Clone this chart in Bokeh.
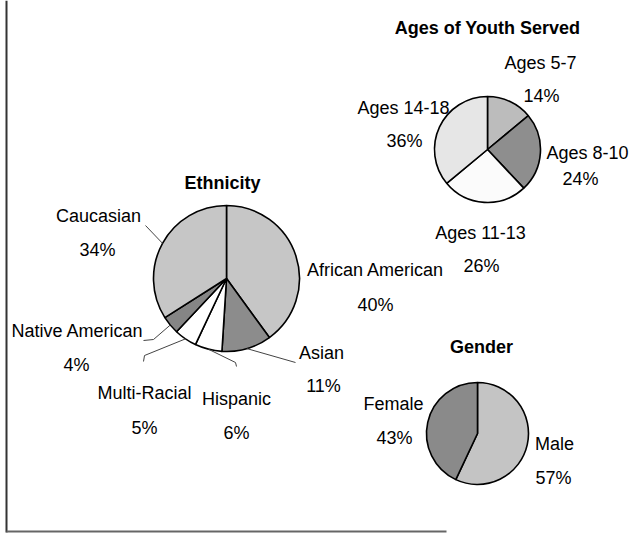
import math
from bokeh.plotting import figure
from bokeh.models import Range1d
from bokeh.core.properties import value
from bokeh.embed import file_html
from bokeh.resources import INLINE

# ---------------- data ----------------
eth_labels = ["African American", "Asian", "Hispanic", "Multi-Racial", "Native American", "Caucasian"]
eth_values = [40, 11, 6, 5, 4, 34]

age_labels = ["Ages 5-7", "Ages 8-10", "Ages 11-13", "Ages 14-18"]
age_values = [14, 24, 26, 36]

gender_labels = ["Male", "Female"]
gender_values = [57, 43]

# ---------------- layout (pixel coords, y down) ----------------
W, H = 639, 534
FONT = value("Liberation Sans")


def Y(py):
    return H - py


charts = [
    dict(title="Ethnicity", labels=eth_labels, values=eth_values,
         center=(226, 278), r=73, title_pos=(222, 182),
         colors=["#c6c6c6", "#8c8c8c", "#ffffff", "#ffffff", "#858585", "#c6c6c6"],
         name_pos=[(375, 269), (321, 352), (236, 398), (144, 392), (77, 330), (98, 215)],
         pct_pos=[(375, 304), (323, 385), (236, 432), (144, 427), (76, 364), (97, 249)],
         leaders={1: [(295, 362)], 2: [(235, 362), (236, 366)], 3: [(144, 355), (143, 361)],
                  4: [(153, 339), (143, 340)], 5: [(145, 225)]}),
    dict(title="Ages of Youth Served", labels=age_labels, values=age_values,
         center=(487, 149), r=53, title_pos=(487, 27),
         colors=["#bcbcbc", "#8e8e8e", "#fbfbfb", "#e6e6e6"],
         name_pos=[(540, 62), (587, 152), (480, 232), (403, 107)],
         pct_pos=[(541, 95), (580, 178), (481, 265), (404, 140)],
         leaders={}),
    dict(title="Gender", labels=gender_labels, values=gender_values,
         center=(477, 433), r=51, title_pos=(481, 346),
         colors=["#c4c4c4", "#8a8a8a"],
         name_pos=[(554, 443), (393, 403)],
         pct_pos=[(553, 477), (394, 437)],
         leaders={}),
]

p = figure(width=W, height=H, output_backend="svg", toolbar_location=None,
           x_range=Range1d(0, W), y_range=Range1d(0, H), min_border=0)
p.axis.visible = False
p.grid.visible = False
p.outline_line_color = None
p.background_fill_color = "white"
p.border_fill_color = "white"

# frame lines
p.segment(x0=[6], y0=[Y(0)], x1=[6], y1=[Y(532)], line_color="#333333", line_width=2)
p.segment(x0=[6], y0=[Y(531)], x1=[446], y1=[Y(531)], line_color="#666666", line_width=2)

for c in charts:
    vals = c["values"]
    total = float(sum(vals))
    cx, cy = c["center"]
    r = c["r"]
    starts, ends, mids = [], [], []
    cum = 0.0
    for v in vals:
        a0 = math.pi / 2 - 2 * math.pi * cum / total
        cum += v
        a1 = math.pi / 2 - 2 * math.pi * cum / total
        starts.append(a0)
        ends.append(a1)
        mids.append((a0 + a1) / 2)
    p.wedge(x=[cx] * len(vals), y=[Y(cy)] * len(vals), radius=r,
            start_angle=starts, end_angle=ends, direction="clock",
            fill_color=c["colors"], line_color="black", line_width=1.6)

    # leader lines: from slice edge (mid angle) to label
    for i, pts in c["leaders"].items():
        ex = cx + r * math.cos(mids[i])
        ey = Y(cy) + r * math.sin(mids[i])
        xs = [ex] + [pt[0] for pt in pts]
        ys = [ey] + [Y(pt[1]) for pt in pts]
        p.line(xs, ys, line_color="#444444", line_width=1)

    # title
    tx, ty = c["title_pos"]
    p.text(x=[tx], y=[Y(ty)], text=[c["title"]], text_font=FONT, text_font_style="bold",
           text_font_size="18px", text_align="center", text_baseline="alphabetic",
           text_color="black")
    # names and percentages
    p.text(x=[q[0] for q in c["name_pos"]], y=[Y(q[1]) for q in c["name_pos"]],
           text=c["labels"], text_font=FONT, text_font_size="18px",
           text_align="center", text_baseline="alphabetic", text_color="black")
    p.text(x=[q[0] for q in c["pct_pos"]], y=[Y(q[1]) for q in c["pct_pos"]],
           text=[f"{v}%" for v in vals], text_font=FONT, text_font_size="18px",
           text_align="center", text_baseline="alphabetic", text_color="black")

open("out.html", "w").write(file_html(p, INLINE))
